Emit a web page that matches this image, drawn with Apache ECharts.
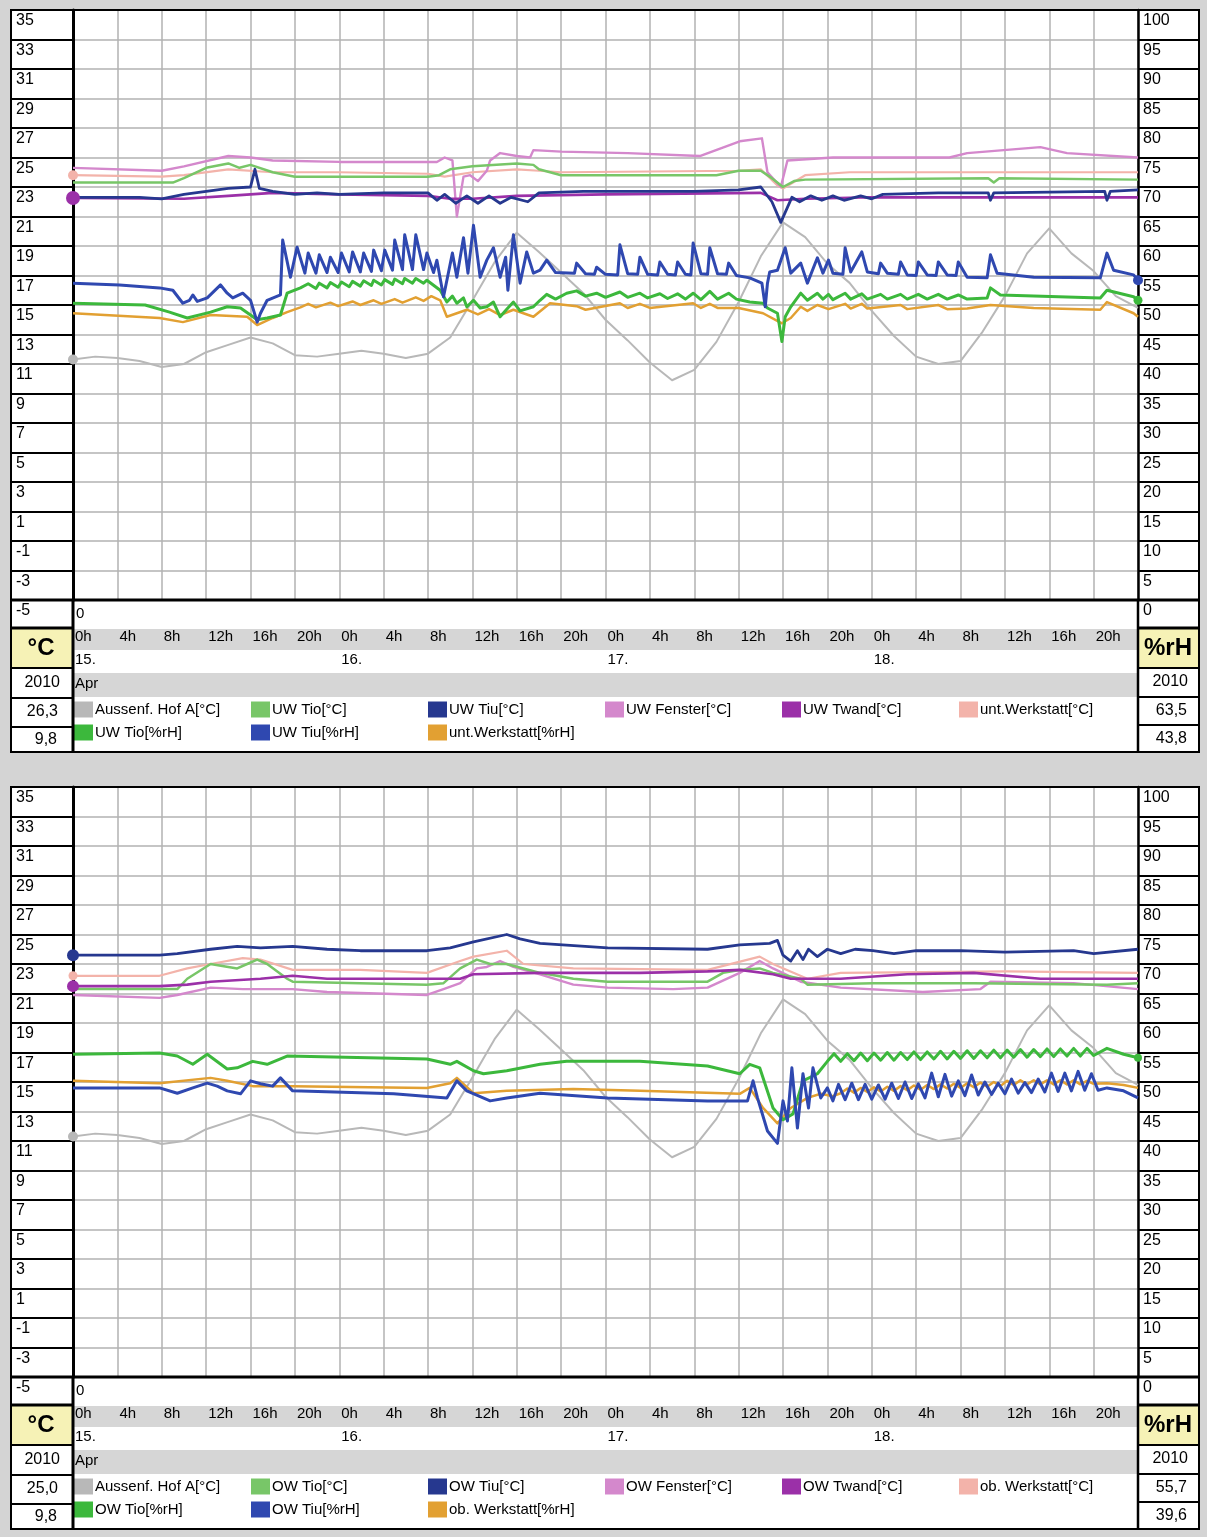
<!DOCTYPE html>
<html><head><meta charset="utf-8">
<script src="https://cdn.jsdelivr.net/npm/echarts@6/dist/echarts.min.js"></script>
<style>html,body{margin:0;padding:0;background:#d4d4d4}#c{width:1207px;height:1537px}</style>
</head><body><div id="c"></div>
<script>
const FONT = 'Liberation Sans';
// ---- tick labels ----
const hourLabels = ['0h','4h','8h','12h','16h','20h'];
const dayLabels = ['15.','16.','17.','18.'];
const monthLabel = 'Apr';
const zeroLabel = '0';
const unitLeft = '°C', unitRight = '%rH';
// ---- footer statistics [year, max, min] ----
const topStatsT = ['2010','26,3','9,8'];
const topStatsRH = ['2010','63,5','43,8'];
const botStatsT = ['2010','25,0','9,8'];
const botStatsRH = ['2010','55,7','39,6'];

// ---- outdoor temperature (same sensor in both panels), every 2 h ----
const H2 = [0,2,4,6,8,10,12,14,16,18,20,22,24,26,28,30,32,34,36,38,40,42,44,46,48,50,52,54,56,58,60,62,64,66,68,70,72,74,76,78,80,82,84,86,88,90,92,94,96];
const aussenT = [11.3,11.5,11.4,11.2,10.8,11.0,11.8,12.3,12.8,12.4,11.6,11.5,11.7,11.9,11.7,11.4,11.7,12.8,15.3,17.9,19.9,18.6,17.2,15.8,14.0,12.6,11.1,9.9,10.6,12.5,15.2,18.3,20.6,19.6,17.8,16.5,14.6,12.9,11.5,11.0,11.2,13.2,15.6,18.5,20.2,18.5,17.3,15.6,14.8];

// ---- top panel (UW / unt. Werkstatt), [hour, value] ----
const uwTioT = [[0,23.3],[9,23.3],[10,23.6],[12,24.3],[14,24.6],[15,24.3],[16,24.5],[18,24.0],[20,23.7],[32,23.7],[33,23.8],[34,24.2],[36,24.4],[40,24.6],[41.5,24.5],[42,24.2],[44,23.8],[58,23.8],[60,24.1],[62,24.1],[63,23.6],[64,23.0],[65,23.4],[66,23.5],[82.5,23.6],[83,23.3],[83.5,23.6],[96,23.5]];
const uwTiuT = [[0,22.3],[6,22.3],[8,22.2],[10,22.5],[12,22.7],[14,22.9],[16,23.0],[16.4,24.2],[16.8,22.9],[18,22.7],[20,22.5],[22,22.6],[24,22.5],[28,22.6],[32,22.6],[32.8,22.1],[33.5,22.5],[34.5,21.9],[35.5,22.4],[36.5,21.9],[37.5,22.4],[38.5,21.9],[39.5,22.3],[41,22.0],[42,22.6],[46,22.7],[56,22.7],[60,22.8],[62,23.0],[63,22.0],[63.8,20.6],[64.8,22.3],[65.5,22.0],[66.5,22.4],[67.5,22.1],[68.5,22.4],[69.5,22.1],[71,22.4],[72,22.2],[73,22.5],[78,22.6],[82.5,22.6],[82.7,22.1],[83,22.6],[93,22.7],[93.2,22.1],[93.5,22.7],[96,22.8]];
const uwFenster = [[0,24.3],[8,24.1],[10,24.4],[14,25.1],[16,25.0],[18,24.8],[24,24.7],[32.8,24.7],[33.5,25.0],[34.2,24.8],[34.6,21.0],[35.2,23.7],[35.8,23.8],[36.5,23.4],[37.3,24.1],[37.6,24.8],[38.5,25.3],[40,25.1],[41.2,25.0],[41.5,25.5],[44,25.4],[50,25.3],[56.5,25.1],[60.1,26.1],[62.1,26.3],[62.6,24.0],[63.8,23.0],[64.4,24.8],[68.5,25.0],[79,25.0],[80.6,25.3],[87.2,25.7],[89.6,25.3],[96,25.0]];
const uwTwand = [[0,22.25],[10,22.2],[14,22.4],[18,22.6],[24,22.5],[32,22.4],[34,22.2],[36,22.2],[40,22.4],[48,22.5],[62,22.6],[63.5,22.1],[66,22.2],[72,22.3],[96,22.3]];
const untWerkT = [[0,23.8],[8,23.7],[10,23.8],[14,24.2],[18,24.0],[24,24.0],[32,23.9],[33.5,23.7],[36,24.0],[40,24.2],[42,24.1],[44,24.0],[60,24.1],[62,24.2],[63.5,23.1],[64,22.9],[66,23.8],[70,24.0],[96,24.0]];
const uwTioRH = [[0,50.3],[6.5,50.0],[8.7,48.8],[10.3,47.8],[12.4,48.8],[13.9,49.7],[15.1,49.5],[16.0,48.3],[16.6,47.5],[17.5,47.8],[18.7,48.3],[19.3,52.0],[20.5,52.9],[21.2,53.6],[21.9,52.8],[22.2,53.7],[22.9,52.9],[23.2,53.8],[23.9,53.0],[24.2,53.9],[24.9,53.1],[25.2,54.0],[25.9,53.2],[26.2,54.1],[26.9,53.3],[27.1,54.2],[27.8,53.4],[28.1,54.3],[28.8,53.5],[29.0,54.4],[29.7,53.6],[29.9,54.5],[30.6,53.7],[30.9,54.5],[31.6,53.7],[31.9,54.2],[33.1,52.5],[33.7,50.5],[34.2,51.5],[34.6,50.3],[35.2,51.2],[35.5,49.7],[36.1,50.8],[36.7,49.5],[37.3,49.7],[37.9,50.5],[38.5,48.0],[39.2,49.5],[39.7,50.5],[40.3,49.0],[41.5,49.7],[42.1,50.8],[42.7,51.8],[43.5,51.0],[44.5,52.0],[45.4,52.4],[46.2,51.5],[47.2,52.0],[48.0,51.3],[49.3,52.2],[50.0,51.3],[51.1,52.0],[51.8,51.2],[52.9,51.9],[53.6,51.1],[54.5,51.9],[55.2,51.0],[55.9,52.0],[56.6,50.9],[57.4,52.3],[58.1,51.0],[59.1,52.0],[59.8,51.0],[61.0,50.5],[62.2,50.3],[62.6,49.5],[63.5,48.6],[63.9,43.8],[64.2,48.0],[64.7,49.7],[65.6,52.0],[66.2,50.8],[67.1,52.0],[67.6,51.0],[68.1,51.8],[68.5,50.9],[69.6,52.0],[70.1,51.0],[71.1,51.9],[71.6,51.0],[72.8,51.8],[73.4,51.0],[74.6,51.8],[75.2,51.0],[76.2,51.8],[77.0,51.0],[78.0,51.8],[78.8,51.0],[79.8,51.7],[80.6,51.0],[82.4,51.2],[82.7,52.9],[83.6,51.7],[92.6,51.2],[93.2,52.5],[95.6,51.4],[96,50.8]];
const uwTiuRH = [[0,53.7],[4.2,53.4],[7.8,52.9],[9.0,52.5],[9.9,50.3],[10.5,50.8],[10.8,51.7],[11.2,50.6],[12.1,51.2],[13.3,53.4],[13.9,52.0],[14.4,51.2],[15.3,52.0],[16.0,50.8],[16.6,47.1],[16.9,48.6],[17.5,50.8],[18.7,51.7],[18.9,61.0],[19.6,54.7],[20.2,59.8],[20.9,55.4],[21.2,58.8],[21.9,55.4],[22.2,58.5],[22.9,55.5],[23.2,58.1],[23.9,55.5],[24.2,58.8],[24.9,55.6],[25.2,59.0],[25.9,55.6],[26.2,58.8],[26.9,55.7],[27.1,59.3],[27.8,55.8],[28.1,59.3],[28.8,55.9],[29.0,61.0],[29.7,56.0],[29.9,61.9],[30.6,56.0],[30.9,61.9],[31.6,56.0],[31.9,58.8],[32.5,55.5],[32.8,57.6],[33.4,51.4],[34.2,58.8],[34.6,54.7],[35.2,61.4],[35.6,55.4],[36.1,63.5],[36.7,54.7],[37.3,57.6],[37.9,59.7],[38.5,54.7],[39.0,58.1],[39.2,52.5],[39.7,61.9],[40.3,53.7],[40.9,59.0],[41.5,55.4],[42.1,55.9],[42.7,57.6],[43.5,55.5],[45.2,55.4],[45.4,57.1],[46.2,55.3],[47.0,55.2],[47.2,56.4],[48.0,55.2],[49.1,55.1],[49.3,60.2],[50.0,55.3],[50.9,55.2],[51.1,58.1],[51.8,55.2],[52.7,55.1],[52.9,57.3],[53.6,55.2],[54.3,55.1],[54.5,57.3],[55.2,55.2],[55.7,55.1],[55.9,60.5],[56.6,55.3],[57.2,55.2],[57.4,59.7],[58.1,55.3],[58.9,55.2],[59.1,57.1],[59.8,55.0],[61.0,54.6],[62.1,53.7],[62.4,49.7],[62.6,53.7],[62.8,55.6],[63.5,55.9],[64.2,59.7],[64.7,55.4],[65.6,57.1],[66.2,53.7],[67.1,58.0],[67.6,55.4],[68.1,57.6],[68.5,55.4],[69.4,55.2],[69.6,59.7],[70.1,55.6],[71.1,59.0],[71.6,55.6],[72.6,55.3],[72.8,57.1],[73.4,55.4],[74.4,55.2],[74.6,57.3],[75.2,55.1],[76.0,55.0],[76.2,57.3],[77.0,55.1],[77.8,55.0],[78.0,57.3],[78.8,55.1],[79.6,55.0],[79.8,57.3],[80.6,54.7],[82.4,54.6],[82.7,58.5],[83.3,55.4],[86.6,54.7],[92.6,54.6],[93.2,58.8],[93.8,55.9],[95.6,55.1],[96,54.2]];
const untWerkRH = [[0,48.6],[7.8,47.8],[9.9,47.1],[12.4,48.3],[15.7,48.0],[16.6,46.6],[18.0,47.8],[19.3,48.8],[20.5,49.6],[21.2,50.2],[21.9,49.6],[23.2,50.4],[23.9,49.8],[25.2,50.6],[25.9,50.0],[27.1,50.8],[27.8,50.2],[29.0,51.0],[29.7,50.4],[30.9,51.3],[31.6,50.7],[32.3,51.5],[33.1,50.8],[33.7,48.0],[35.5,49.2],[36.5,48.4],[37.5,49.3],[38.5,48.3],[39.7,49.2],[41.5,48.0],[43.0,50.3],[45.4,49.8],[46.2,49.2],[49.3,50.3],[50.0,49.5],[51.1,50.2],[52.0,49.5],[55.9,50.3],[56.6,49.5],[57.4,50.2],[58.1,49.5],[60,49.5],[62.2,48.6],[63.9,46.9],[64.7,47.8],[65.6,49.7],[66.2,49.0],[67.1,50.0],[68.1,49.3],[69.6,50.2],[70.1,49.4],[71.1,50.2],[71.6,49.4],[74.6,50.0],[75.2,49.3],[78.0,50.0],[78.8,49.3],[80.6,49.4],[82.7,50.0],[86.6,49.5],[92.6,49.2],[93.2,50.5],[95.6,48.6],[96,48.0]];

// ---- bottom panel (OW / ob. Werkstatt), [hour, value] ----
const owTioT = [[0,21.3],[9.4,21.3],[10.3,22.0],[12.4,23.0],[14.8,22.7],[15.7,23.0],[16.6,23.3],[17.5,23.0],[19.3,22.0],[19.8,21.8],[31.9,21.6],[33.4,21.7],[34.9,22.7],[36.4,23.3],[37.6,23.0],[39.1,23.0],[40.6,22.7],[42.1,22.4],[45.1,22.0],[48.2,21.8],[57.2,21.8],[58.6,22.4],[60.1,22.6],[61.9,22.7],[63.1,22.4],[65.6,22.0],[66.2,21.6],[72.1,21.7],[81.2,21.7],[93.2,21.6],[96,21.7]];
const owTiuT = [[0,23.6],[7.8,23.6],[9.4,23.7],[12.4,24.0],[14.8,24.2],[16.9,24.1],[19.8,24.2],[22.9,24.0],[25.9,23.9],[31.9,23.9],[34.0,24.1],[36.1,24.5],[39.1,25.0],[40.3,24.7],[42.1,24.4],[48.2,24.1],[57.2,24.0],[60.1,24.3],[62.8,24.4],[63.5,24.6],[64.0,23.6],[64.7,23.2],[65.3,23.9],[65.8,23.3],[66.3,24.0],[67.1,23.5],[68.0,24.0],[69.2,23.7],[70.5,24.0],[72.1,23.9],[74,23.7],[76,23.9],[80,23.9],[84,23.8],[90.2,23.9],[92,23.7],[96,24.0]];
const owFenster = [[0,20.9],[7.8,20.7],[9.4,20.9],[12.4,21.4],[15.3,21.3],[19.8,21.3],[22.9,21.1],[31.9,20.9],[33.4,21.3],[34.9,21.7],[36.4,22.7],[37.3,22.8],[38.5,23.2],[39.7,22.8],[42.1,22.3],[45.1,21.6],[48.2,21.4],[54.1,21.3],[57.2,21.4],[60.1,22.4],[61.9,23.2],[63.1,22.7],[65.6,21.8],[69.2,21.4],[76.6,21.1],[81.8,21.3],[82.7,21.8],[90.2,21.7],[96,21.3]];
const owTwand = [[0,21.5],[7.8,21.5],[10.3,21.6],[12.4,21.8],[16.9,22.0],[19.8,22.2],[22.9,22.0],[31.9,22.0],[34.9,22.0],[36.1,22.3],[42.1,22.4],[51.1,22.4],[57.2,22.5],[60.1,22.6],[63.1,22.3],[64.7,22.0],[69.2,22.0],[75.2,22.3],[81.2,22.4],[87.2,22.0],[96,22.0]];
const obWerkT = [[0,22.2],[7.8,22.2],[10.3,22.7],[12.4,23.0],[15.3,23.4],[16.9,23.3],[19.8,22.6],[25.9,22.6],[31.9,22.4],[34.9,23.2],[36.1,23.5],[39.1,23.9],[40.6,23.0],[45.1,22.7],[57.2,22.6],[61.9,23.5],[63.1,23.0],[66.2,22.0],[69.2,22.4],[84.2,22.5],[96,22.4]];
const owTioRH = [[0,54.7],[7.8,54.9],[9.4,54.4],[10.8,53.0],[12.1,54.7],[13.9,52.2],[14.8,52.4],[16.2,53.5],[17.5,53.0],[19.3,54.4],[31.9,53.9],[34.0,53.0],[34.6,53.5],[36.1,51.9],[37.0,51.4],[39.1,51.9],[42.1,53.0],[44.5,53.5],[51.1,53.5],[57.2,52.7],[60.1,51.4],[61.0,53.0],[61.9,52.4],[63.1,45.6],[64.0,43.6],[64.9,44.6],[65.8,50.2],[67.1,51.4],[68.0,53.5],[68.6,54.8],[69.2,53.5],[69.8,54.8],[70.4,53.6],[71.0,54.9],[71.6,53.6],[72.2,54.9],[72.8,53.7],[73.4,55.0],[74.0,53.7],[74.6,55.0],[75.2,53.8],[75.8,55.1],[76.4,53.8],[77.0,55.1],[77.6,53.9],[78.2,55.2],[78.8,53.9],[79.4,55.2],[80.0,54.0],[80.6,55.3],[81.2,54.0],[81.8,55.3],[82.4,54.1],[83.0,55.4],[83.6,54.1],[84.2,55.4],[84.8,54.2],[85.4,55.5],[86.0,54.2],[86.6,55.5],[87.2,54.3],[87.8,55.6],[88.4,54.3],[89.0,55.6],[89.6,54.4],[90.2,55.7],[90.8,54.4],[91.4,55.7],[92.0,54.5],[93.2,55.7],[94.7,54.7],[96,54.1]];
const owTiuRH = [[0,49.0],[7.8,49.0],[9.4,48.1],[10.8,49.0],[12.1,49.8],[13.0,49.3],[13.9,48.5],[15.1,48.0],[16.0,50.2],[16.9,49.7],[18.0,49.3],[18.7,50.7],[19.8,48.5],[28.9,48.0],[33.7,47.3],[34.6,50.2],[35.5,48.5],[37.6,46.8],[39.1,47.3],[42.1,48.1],[48.2,47.3],[57.2,46.8],[60.8,46.8],[61.3,50.2],[61.7,47.3],[62.6,41.7],[63.5,39.6],[64.0,46.8],[64.4,43.4],[64.8,52.4],[65.3,42.2],[65.8,51.4],[66.3,45.6],[66.7,52.4],[67.4,47.3],[68.0,49.0],[68.5,46.8],[69.0,49.6],[69.6,47.0],[70.2,49.8],[70.8,47.0],[71.4,49.6],[72.0,47.1],[72.6,49.5],[73.2,47.1],[73.8,49.8],[74.4,47.2],[75.0,50.0],[75.6,47.2],[76.2,49.7],[76.8,47.3],[77.4,51.5],[78.0,47.5],[78.6,51.3],[79.2,47.6],[79.8,50.2],[80.4,47.7],[81.0,51.2],[81.6,47.8],[82.2,50.0],[82.8,47.9],[83.4,49.8],[84.0,48.0],[84.6,50.5],[85.2,48.1],[85.8,49.9],[86.4,48.2],[87.0,50.5],[87.6,48.3],[88.2,51.5],[88.8,48.4],[89.4,51.5],[90.0,48.5],[90.6,51.8],[91.2,48.6],[91.8,51.4],[92.4,48.6],[93.2,49.0],[94.7,48.5],[96,47.3]];
const obWerkRH = [[0,50.2],[7.8,49.8],[12.4,50.7],[13.9,50.2],[16.2,49.3],[19.8,49.3],[31.9,49.0],[34.0,49.8],[34.6,50.7],[36.1,48.1],[39.1,48.5],[45.1,48.8],[51.1,48.5],[60.1,48.0],[61.0,49.0],[62.2,45.6],[63.5,43.0],[64.7,45.6],[66.2,47.3],[67.4,48.0],[68.5,47.6],[69.2,48.1],[69.8,48.9],[70.4,48.2],[71.0,49.0],[71.6,48.3],[72.2,49.1],[72.8,48.4],[73.4,49.2],[74.0,48.5],[74.6,49.3],[75.2,48.6],[75.8,49.4],[76.4,48.7],[77.0,49.5],[77.6,48.8],[78.2,49.6],[78.8,48.9],[79.4,49.7],[80.0,49.0],[80.6,49.8],[81.2,49.1],[81.8,49.9],[82.4,49.2],[83.0,50.0],[83.6,49.3],[84.2,50.2],[84.8,49.5],[85.4,50.3],[86.0,49.6],[86.6,50.3],[87.2,49.6],[87.8,50.3],[88.4,49.6],[89.0,50.3],[89.6,49.6],[90.2,50.3],[90.8,49.6],[91.4,50.2],[92.0,49.7],[93.2,49.8],[94.7,49.5],[96,49.0]];

// ---- names ----
const topNames = ['Aussenf. Hof A[°C]','UW Tio[°C]','UW Tiu[°C]','UW Fenster[°C]','UW Twand[°C]','unt.Werkstatt[°C]','UW Tio[%rH]','UW Tiu[%rH]','unt.Werkstatt[%rH]'];
const botNames = ['Aussenf. Hof A[°C]','OW Tio[°C]','OW Tiu[°C]','OW Fenster[°C]','OW Twand[°C]','ob. Werkstatt[°C]','OW Tio[%rH]','OW Tiu[%rH]','ob. Werkstatt[%rH]'];
const colors = {gray:'#b8b8b8', tioT:'#78c668', tiuT:'#26388f', fen:'#d488cc', twand:'#9b30a8', werkT:'#f3b3aa', tioRH:'#3cb83c', tiuRH:'#2f48b0', werkRH:'#e2a032'};

const aussenPairs = H2.map((h,i)=>[h, aussenT[i]]);

function ln(name, data, xi, yi, color, width, dot){
  const d = data.map((p,i)=>{
    if (dot && ((dot.at==='start' && i===0) || (dot.at==='end' && i===data.length-1)))
      return {value:p, symbol:'circle', symbolSize:dot.size, itemStyle:{color}};
    return p;
  });
  return {type:'line', name, xAxisIndex:xi, yAxisIndex:yi, data:d, symbol:'none', showSymbol:!!dot,
    lineStyle:{color, width, join:'round'}, itemStyle:{color}, silent:true, animation:false, clip:true};
}

const series = [
  ln(topNames[0], aussenPairs, 0, 0, colors.gray, 2, {at:'start',size:10}),
  ln(topNames[5], untWerkT, 0, 0, colors.werkT, 2.2, {at:'start',size:10}),
  ln(topNames[3], uwFenster, 0, 0, colors.fen, 2.4),
  ln(topNames[1], uwTioT, 0, 0, colors.tioT, 2.5),
  ln(topNames[4], uwTwand, 0, 0, colors.twand, 2.6, {at:'start',size:14}),
  ln(topNames[2], uwTiuT, 0, 0, colors.tiuT, 2.8),
  ln(topNames[8], untWerkRH, 0, 1, colors.werkRH, 2.5),
  ln(topNames[6], uwTioRH, 0, 1, colors.tioRH, 3, {at:'end',size:9}),
  ln(topNames[7], uwTiuRH, 0, 1, colors.tiuRH, 3, {at:'end',size:10}),

  ln(botNames[0], aussenPairs, 1, 2, colors.gray, 2, {at:'start',size:10}),
  ln(botNames[5], obWerkT, 1, 2, colors.werkT, 2.2, {at:'start',size:9}),
  ln(botNames[3], owFenster, 1, 2, colors.fen, 2.4),
  ln(botNames[1], owTioT, 1, 2, colors.tioT, 2.5),
  ln(botNames[4], owTwand, 1, 2, colors.twand, 2.6, {at:'start',size:12}),
  ln(botNames[2], owTiuT, 1, 2, colors.tiuT, 2.8, {at:'start',size:12}),
  ln(botNames[8], obWerkRH, 1, 3, colors.werkRH, 2.5),
  ln(botNames[6], owTioRH, 1, 3, colors.tioRH, 3, {at:'end',size:8}),
  ln(botNames[7], owTiuRH, 1, 3, colors.tiuRH, 3)
];

const GRID = {left:73, width:1065, height:590};
const OFF = [0, 777];

function xAx(gi){
  return {type:'value', gridIndex:gi, min:0, max:96, interval:4, z:1,
    axisLine:{show:false}, axisTick:{show:false},
    splitLine:{show:true, lineStyle:{color:'#b2b2b2', width:1.5}},
    axisLabel:{show:true, showMaxLabel:false, showMinLabel:true, hideOverlap:false, margin:25, align:'left', verticalAlign:'top',
      lineHeight:23.5, fontSize:15, fontFamily:FONT, color:'#000', padding:[0,0,0,2],
      formatter: v => { const h = v % 24, d = Math.floor(v/24); let s = hourLabels[h/4];
        if (h === 0) { s += '\n' + dayLabels[d]; if (d === 0) s += '\n' + monthLabel; } return s; }}};
}
function yL(gi){
  return {type:'value', gridIndex:gi, position:'left', min:-5, max:35, interval:2, z:1,
    axisLine:{show:true, lineStyle:{color:'#000', width:3}},
    axisTick:{show:true, length:61, lineStyle:{color:'#000', width:2}},
    splitLine:{show:true, lineStyle:{color:'#b2b2b2', width:1.5}},
    axisLabel:{margin:57, align:'left', verticalAlign:'top', lineHeight:22, fontSize:16, fontFamily:FONT, color:'#000', hideOverlap:false, showMinLabel:true, showMaxLabel:true}};
}
function yR(gi){
  return {type:'value', gridIndex:gi, position:'right', min:0, max:100, interval:5, z:1,
    axisLine:{show:true, lineStyle:{color:'#000', width:2.5}},
    axisTick:{show:true, length:61, lineStyle:{color:'#000', width:2}},
    splitLine:{show:false},
    axisLabel:{margin:5, align:'left', verticalAlign:'top', lineHeight:22, fontSize:16, fontFamily:FONT, color:'#000', hideOverlap:false, showMinLabel:true, showMaxLabel:true}};
}

function legend(names, top){
  return {data: names.map(n=>({name:n, icon:'rect'})), left:74, top:top, width:1070, orient:'horizontal',
    itemWidth:19, itemHeight:16, itemGap:0, padding:0, selectedMode:false,
    textStyle:{fontFamily:FONT, fontSize:15, color:'#000', width:156, lineHeight:23, overflow:'none', padding:[0,0,0,-3]}};
}

function panelGraphics(o, statsT, statsRH){
  const g = [];
  const bg = (x,y,w,h,fill)=>g.push({type:'rect', z:-10, silent:true, shape:{x,y:y+o,width:w,height:h}, style:{fill}});
  const line = (x1,y1,x2,y2,w)=>g.push({type:'line', z:50, silent:true, shape:{x1,y1:y1+o,x2,y2:y2+o}, style:{stroke:'#000', lineWidth:w}});
  const txt = (x,y,t,opt)=>g.push({type:'text', z:50, silent:true, x, y:y+o, style:Object.assign({text:t, fill:'#000', font:'15px "'+FONT+'"', textAlign:'left', textVerticalAlign:'middle'}, opt||{})});
  bg(11,10,1188,742,'#ffffff');
  bg(73,629,1065,21,'#d6d6d6');
  bg(73,673,1065,24,'#d6d6d6');
  bg(12,629,60,39,'#f6f2b6');
  bg(1139,629,59,39,'#f6f2b6');
  g.push({type:'rect', z:50, silent:true, shape:{x:11,y:10+o,width:1188,height:742}, style:{fill:null, stroke:'#000', lineWidth:2}});
  line(11,600,1199,600,3);
  line(73,600,73,752,3);
  line(1138,600,1138,752,2.5);
  [628,668,698,727].forEach((y,i)=>line(11,y,73,y,i===0?3:2));
  [628,668,697,725].forEach((y,i)=>line(1138,y,1199,y,i===0?3:2));
  txt(76,614,zeroLabel);
  txt(41,648,unitLeft,{font:'bold 24px "'+FONT+'"', textAlign:'center'});
  txt(1168,648,unitRight,{font:'bold 24px "'+FONT+'"', textAlign:'center'});
  txt(60,683,statsT[0],{font:'16px "'+FONT+'"', textAlign:'right'});
  txt(58,712,statsT[1],{font:'16px "'+FONT+'"', textAlign:'right'});
  txt(57,740,statsT[2],{font:'16px "'+FONT+'"', textAlign:'right'});
  txt(1188,682,statsRH[0],{font:'16px "'+FONT+'"', textAlign:'right'});
  txt(1187,711,statsRH[1],{font:'16px "'+FONT+'"', textAlign:'right'});
  txt(1187,739,statsRH[2],{font:'16px "'+FONT+'"', textAlign:'right'});
  return g;
}

const chart = echarts.init(document.getElementById('c'), null, {renderer:'canvas', width:1207, height:1537});
chart.setOption({
  backgroundColor:'#d4d4d4',
  animation:false,
  textStyle:{fontFamily:FONT},
  grid:[
    Object.assign({top:10+OFF[0], outerBoundsMode:'none', containLabel:false}, GRID),
    Object.assign({top:10+OFF[1], outerBoundsMode:'none', containLabel:false}, GRID)
  ],
  xAxis:[xAx(0), xAx(1)],
  yAxis:[yL(0), yR(0), yL(1), yR(1)],
  legend:[legend(topNames, 698), legend(botNames, 698+OFF[1])],
  graphic:{elements:[...panelGraphics(OFF[0], topStatsT, topStatsRH), ...panelGraphics(OFF[1], botStatsT, botStatsRH)]},
  series
});
</script></body></html>
